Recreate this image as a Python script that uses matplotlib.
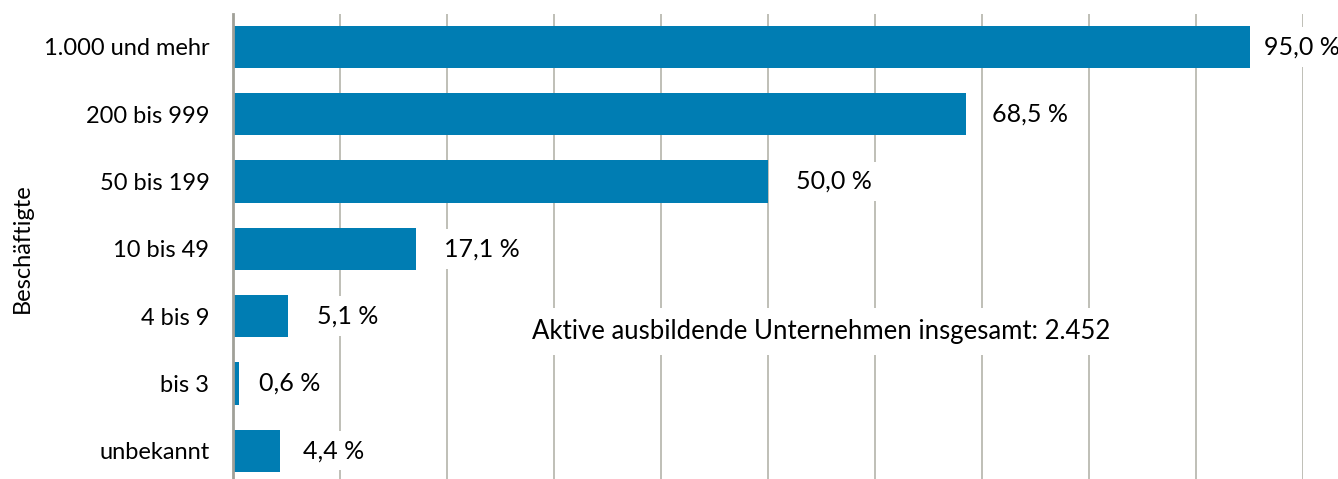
import matplotlib
matplotlib.use("Agg")
import matplotlib.pyplot as plt

# Daten
categories = ["1.000 und mehr", "200 bis 999", "50 bis 199", "10 bis 49", "4 bis 9", "bis 3", "unbekannt"]
shares = [95.0, 68.5, 50.0, 17.1, 5.1, 0.6, 4.4]
value_labels = ["95,0 %", "68,5 %", "50,0 %", "17,1 %", "5,1 %", "0,6 %", "4,4 %"]
note = "Aktive ausbildende Unternehmen insgesamt: 2.452"
ylabel = "Beschäftigte"

bar_color = "#007db3"
grid_color = "#b4b4aa"
label_font = ["Lato", "DejaVu Sans"]

fig = plt.figure(figsize=(13.38, 4.79), dpi=100)
ax = fig.add_axes([233 / 1338, 0, 1070 / 1338, 465 / 479])

y = list(range(len(categories)))
ax.barh(y, shares, height=0.63, color=bar_color, zorder=2)

ax.set_xlim(0, 100)
ax.set_ylim(6.42, -0.49)
ax.set_xticks(range(0, 101, 10))
ax.grid(axis="x", color=grid_color, linewidth=1.2, zorder=0)
ax.tick_params(axis="x", length=0, labelbottom=False)
ax.tick_params(axis="y", length=0, pad=17)
ax.set_yticks(y)
ax.set_yticklabels(categories, fontsize=17, family=label_font)
for s in ["top", "right", "bottom"]:
    ax.spines[s].set_visible(False)
ax.spines["left"].set_color("#a0a098")
ax.spines["left"].set_linewidth(2)
ax.spines["left"].set_zorder(3)

# Beschriftung der Balken, Abstand in Pixel
gaps = [14, 26, 28, 28, 29, 20, 23]
for yi, v, txt, g in zip(y, shares, value_labels, gaps):
    ax.annotate(txt, (v, yi), xytext=(g * 0.72, 0), textcoords="offset points",
                va="center", ha="left", fontsize=18, family=label_font,
                bbox=dict(facecolor="white", edgecolor="none", pad=6), zorder=4)

ax.text(54.95, 4.23, note, ha="center", va="center", fontsize=18.5, family=label_font,
        bbox=dict(facecolor="white", edgecolor="none", pad=8), zorder=4)

fig.text(22 / 1338, 1 - 248 / 479, ylabel, rotation=90, ha="center", va="center",
         fontsize=17, family=label_font)

fig.savefig("out.png", dpi=100)
